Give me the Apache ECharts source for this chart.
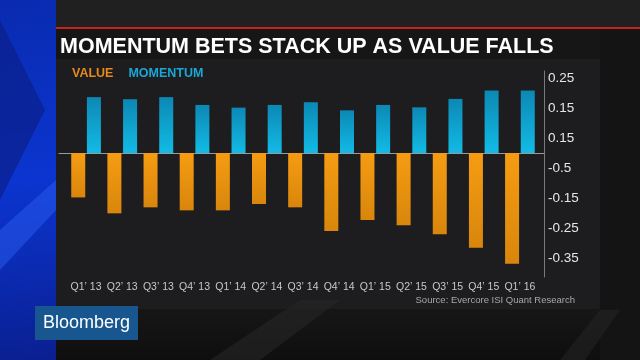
<!DOCTYPE html>
<html><head><meta charset="utf-8">
<script src="https://cdn.jsdelivr.net/npm/echarts@6/dist/echarts.min.js"></script>
<style>html,body{margin:0;padding:0;background:#151515;}#c{width:640px;height:360px;}</style>
</head><body><div id="c"></div>
<script>
var categories = ["Q1’ 13","Q2’ 13","Q3’ 13","Q4’ 13","Q1’ 14","Q2’ 14","Q3’ 14","Q4’ 14","Q1’ 15","Q2’ 15","Q3’ 15","Q4’ 15","Q1’ 16"];
var valueSeries = [-0.148,-0.201,-0.181,-0.191,-0.191,-0.170,-0.181,-0.260,-0.223,-0.241,-0.271,-0.316,-0.369];
var momentumSeries = [0.186,0.179,0.186,0.160,0.151,0.160,0.169,0.142,0.160,0.152,0.180,0.208,0.208];
var tickValues = [0.25,0.15,0.05,-0.05,-0.15,-0.25,-0.35];
var tickLabels = ["0.25","0.15","0.15","-0.5","-0.15","-0.25","-0.35"];
var yMin = -0.413, yMax = 0.273;

var chart = echarts.init(document.getElementById('c'));
function lbl(v){
  for (var i=0;i<tickValues.length;i++){ if (Math.abs(tickValues[i]-v)<1e-6) return tickLabels[i]; }
  return '';
}
chart.setOption({
  backgroundColor: '#151515',
  animation: false,
  graphic: [
    {type:'rect', z:-10, shape:{x:0,y:0,width:640,height:360}, style:{fill:new echarts.graphic.LinearGradient(0,0,0,1,[{offset:0,color:'#1b1b1b'},{offset:0.8,color:'#1a1a1a'},{offset:1,color:'#0e0e0e'}])}},
    {type:'rect', z:-9, shape:{x:0,y:0,width:56,height:360}, style:{fill:new echarts.graphic.LinearGradient(0,0,1,1,[{offset:0,color:'#0a2bb0'},{offset:0.5,color:'#0b35d0'},{offset:1,color:'#0a1f90'}])}},
    {type:'polygon', z:-8, shape:{points:[[0,20],[45,110],[0,200]]}, style:{fill:'#0a1f8a', opacity:0.7}},
    {type:'polygon', z:-8, shape:{points:[[0,230],[56,180],[56,210],[0,270]]}, style:{fill:'#2a5cf0', opacity:0.5}},
    {type:'rect', z:-8, shape:{x:56,y:0,width:584,height:27}, style:{fill:'#202020'}},
    {type:'rect', z:-8, shape:{x:56,y:27,width:584,height:2}, style:{fill:'#c4231f'}},
    {type:'rect', z:-8, shape:{x:56,y:29,width:544,height:30}, style:{fill:'#161617'}},
    {type:'rect', z:-8, shape:{x:56,y:59,width:544,height:250}, style:{fill:'#1d1d1f'}},
    {type:'rect', z:-8, shape:{x:600,y:29,width:40,height:331}, style:{fill:'#141414'}},
    {type:'polygon', z:-7, shape:{points:[[210,360],[300,300],[340,300],[260,360]]}, style:{fill:'#262626', opacity:0.6}},
    {type:'polygon', z:-7, shape:{points:[[560,360],[600,310],[620,310],[585,360]]}, style:{fill:'#262626', opacity:0.5}},
    {type:'rect', z:5, shape:{x:35,y:306,width:103,height:34}, style:{fill:'#17568f'}},
    {type:'text', z:6, x:43, y:323, style:{text:'Bloomberg', fill:'#ffffff', font:'18px "Liberation Sans", Arial, sans-serif', textVerticalAlign:'middle'}},
    {type:'text', z:6, x:575, y:300, style:{text:'Source: Evercore ISI Quant Research', fill:'#a8a8a8', font:'9.5px "Liberation Sans", Arial, sans-serif', textAlign:'right', textVerticalAlign:'middle'}}
  ],
  title: {
    text: 'MOMENTUM BETS STACK UP AS VALUE FALLS',
    left: 55, top: 31,
    textStyle: {color:'#ffffff', fontSize:21.5, fontWeight:'bold', fontFamily:'"Liberation Sans", Arial, sans-serif'}
  },
  legend: {
    left: 62, top: 62,
    icon: 'rect', itemWidth: 0, itemHeight: 0, itemGap: 10,
    textStyle: {fontSize:12.5, fontWeight:'bold', fontFamily:'"Liberation Sans Narrow", "Liberation Sans", Arial, sans-serif'},
    data: [
      {name:'VALUE', textStyle:{color:'#e88a1a'}},
      {name:'MOMENTUM', textStyle:{color:'#1aa6d6'}}
    ]
  },
  grid: [
    {left:68, right:102, top:71, bottom:83},
    {left:59, right:96, top:71, bottom:83}
  ],
  xAxis: [
    {type:'category', gridIndex:0, data:categories,
     axisLine:{show:false, onZero:false}, axisTick:{show:false},
     axisLabel:{color:'#c8c8c8', fontSize:10.5, margin:5, interval:0, fontFamily:'"Liberation Sans", Arial, sans-serif'}},
    {type:'value', gridIndex:1, min:0, max:1,
     axisLine:{show:true, onZero:true, lineStyle:{color:'#9a9a9a', width:1}},
     axisTick:{show:false}, axisLabel:{show:false}, splitLine:{show:false}}
  ],
  yAxis: [
    {type:'value', gridIndex:0, min:yMin, max:yMax, show:false, splitLine:{show:false}},
    {type:'value', gridIndex:1, position:'right', min:yMin, max:yMax,
     axisLine:{show:true, onZero:false, lineStyle:{color:'#7a7a7a', width:1}},
     axisTick:{show:false}, splitLine:{show:false},
     axisLabel:{color:'#e6e6e6', fontSize:13.5, margin:4, fontFamily:'"Liberation Sans", Arial, sans-serif',
       customValues: tickValues, formatter: lbl}}
  ],
  series: [
    {name:'VALUE', type:'bar', xAxisIndex:0, yAxisIndex:0, data:valueSeries, barWidth:14, barGap:'12%',
     itemStyle:{color:new echarts.graphic.LinearGradient(0,0,0,1,[{offset:0,color:'#f69c12'},{offset:1,color:'#d8860c'}])}},
    {name:'MOMENTUM', type:'bar', xAxisIndex:0, yAxisIndex:0, data:momentumSeries, barWidth:14, barGap:'12%',
     itemStyle:{color:new echarts.graphic.LinearGradient(0,0,0,1,[{offset:0,color:'#0c88b4'},{offset:1,color:'#12bbe6'}])}}
  ]
});
</script></body></html>
